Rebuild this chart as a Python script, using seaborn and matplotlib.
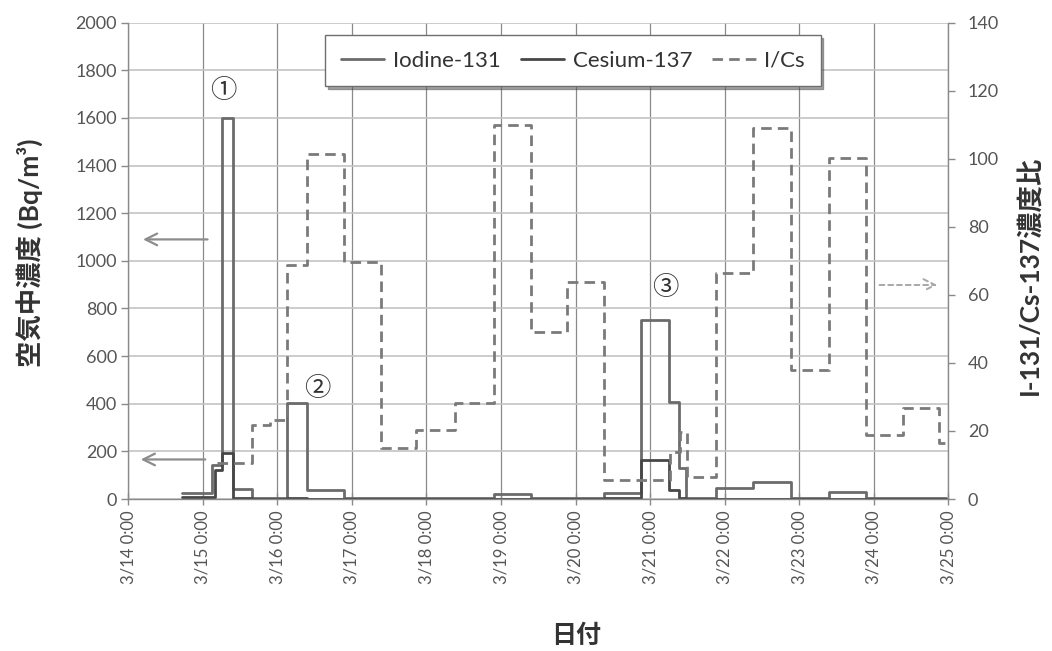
import matplotlib
matplotlib.use("Agg")
import matplotlib.pyplot as plt
import pandas as pd
import seaborn as sns

sns.set_theme(style="white")
plt.rcParams["font.family"] = ["Lato", "Noto Sans CJK JP", "DejaVu Sans"]

# I-131 air concentration, Bq/m3 (start of each sampling period)
iodine_start = ["2011-03-14 17:20", "2011-03-15 02:50", "2011-03-15 06:15", "2011-03-15 09:35",
                "2011-03-15 15:45", "2011-03-16 03:10", "2011-03-16 09:35", "2011-03-16 21:35",
                "2011-03-17 09:15", "2011-03-17 20:40", "2011-03-18 09:20", "2011-03-18 21:35",
                "2011-03-19 09:35", "2011-03-19 21:20", "2011-03-20 09:05", "2011-03-20 21:05",
                "2011-03-21 06:00", "2011-03-21 09:20", "2011-03-21 11:30", "2011-03-21 21:05",
                "2011-03-22 09:05", "2011-03-22 21:20", "2011-03-23 09:35", "2011-03-23 21:35",
                "2011-03-24 09:20", "2011-03-24 21:05"]
iodine_value = [25, 143, 1600, 40, 3, 403, 38, 4, 3, 3, 3, 22, 3, 4, 24, 750,
                408, 130, 4, 45, 73, 3, 31, 3, 3, 3]

# Cs-137 air concentration, Bq/m3
cesium_start = ["2011-03-14 17:20", "2011-03-15 03:50", "2011-03-15 06:15", "2011-03-15 09:35",
                "2011-03-15 15:45", "2011-03-16 03:10", "2011-03-16 09:35", "2011-03-16 21:35",
                "2011-03-18 21:35", "2011-03-19 09:35", "2011-03-20 09:05", "2011-03-20 21:05",
                "2011-03-21 06:00", "2011-03-21 09:20", "2011-03-21 11:30", "2011-03-21 21:05",
                "2011-03-22 21:20", "2011-03-23 09:35", "2011-03-23 21:35"]
cesium_value = [10, 120, 192, 4, 0.3, 6, 0.4, 0.1, 0.2, 0.1, 4, 164, 38, 6, 0.5, 0.6,
                0.1, 0.3, 0.1]

# I-131 / Cs-137 concentration ratio
ratio_start = ["2011-03-15 04:30", "2011-03-15 15:45", "2011-03-15 21:40", "2011-03-16 03:10",
               "2011-03-16 09:35", "2011-03-16 21:35", "2011-03-17 09:15", "2011-03-17 20:40",
               "2011-03-18 09:20", "2011-03-18 21:35", "2011-03-19 09:35", "2011-03-19 21:20",
               "2011-03-20 09:05", "2011-03-21 06:30", "2011-03-21 09:35", "2011-03-21 11:45",
               "2011-03-21 21:05", "2011-03-22 09:05", "2011-03-22 21:20", "2011-03-23 09:35",
               "2011-03-23 21:35", "2011-03-24 09:20", "2011-03-24 21:05"]
ratio_value = [10.6, 21.8, 23.2, 68.8, 101.4, 69.8, 15.0, 20.3, 28.2, 109.9, 49.2, 63.9,
               5.6, 13.9, 19.8, 6.6, 66.3, 109.0, 37.9, 100.1, 18.8, 26.7, 16.5]

series_end = "2011-03-24 23:15"

day_ticks = ["2011-03-14", "2011-03-15", "2011-03-16", "2011-03-17", "2011-03-18", "2011-03-19",
             "2011-03-20", "2011-03-21", "2011-03-22", "2011-03-23", "2011-03-24", "2011-03-25"]
day_labels = ["3/14 0:00", "3/15 0:00", "3/16 0:00", "3/17 0:00", "3/18 0:00", "3/19 0:00",
              "3/20 0:00", "3/21 0:00", "3/22 0:00", "3/23 0:00", "3/24 0:00", "3/25 0:00"]
left_ticks = [0, 200, 400, 600, 800, 1000, 1200, 1400, 1600, 1800, 2000]
right_ticks = [0, 20, 40, 60, 80, 100, 120, 140]


def step_frame(starts, values, end):
    times = pd.to_datetime(list(starts) + [end])
    vals = list(values) + [values[-1]]
    return pd.DataFrame({"time": times, "value": vals})


iodine_df = step_frame(iodine_start, iodine_value, series_end)
cesium_df = step_frame(cesium_start, cesium_value, series_end)
ratio_df = step_frame(ratio_start, ratio_value, series_end)

W, H = 1052, 651
fig = plt.figure(figsize=(W / 100, H / 100), dpi=100)
fig.patch.set_facecolor("white")
ax = fig.add_axes([128.3 / W, 1 - 499 / H, (948.3 - 128.3) / W, (499 - 22.7) / H])
ax2 = ax.twinx()

tick_color = "#555555"
c_iodine = "#6b6b6b"
c_cesium = "#474747"
c_ratio = "#7a7a7a"

sns.lineplot(data=iodine_df, x="time", y="value", ax=ax, drawstyle="steps-post",
             color=c_iodine, linewidth=2.0, estimator=None, errorbar=None, legend=False)
sns.lineplot(data=cesium_df, x="time", y="value", ax=ax, drawstyle="steps-post",
             color=c_cesium, linewidth=2.0, estimator=None, errorbar=None, legend=False)
sns.lineplot(data=ratio_df, x="time", y="value", ax=ax2, drawstyle="steps-post",
             color=c_ratio, linewidth=2.0, linestyle=(0, (3.8, 2.2)),
             estimator=None, errorbar=None, legend=False)

tick_times = pd.to_datetime(day_ticks)
ax.set_xlim(tick_times[0], tick_times[-1])
ax.set_ylim(0, 2000)
ax2.set_ylim(0, 140)
ax.set_xticks(tick_times)
ax.set_xticklabels(day_labels, rotation=90, fontsize=12, color=tick_color)
ax.set_yticks(left_ticks)
ax.set_yticklabels([str(v) for v in left_ticks], fontsize=13, color=tick_color)
ax2.set_yticks(right_ticks)
ax2.set_yticklabels([str(v) for v in right_ticks], fontsize=13, color=tick_color)
ax.set_xlabel("")
ax.set_ylabel("")
ax2.set_ylabel("")

# grid: light horizontal lines, darker thin vertical lines at each day
ax.set_axisbelow(True)
ax.grid(axis="y", color="#c4c4c4", linewidth=1.2)
ax.grid(axis="x", color="#8a8a8a", linewidth=0.9)
ax2.grid(False)

for a in (ax, ax2):
    for side, sp in a.spines.items():
        sp.set_color("#8a8a8a")
        sp.set_linewidth(1.0)
    a.spines["top"].set_visible(False)
ax.spines["right"].set_visible(False)
ax2.spines["left"].set_visible(False)
ax2.spines["bottom"].set_visible(False)

ax.tick_params(axis="y", direction="out", length=5, width=1, color="#8a8a8a", pad=3, left=True)
ax.tick_params(axis="x", direction="inout", length=9, width=1, color="#8a8a8a", pad=4, bottom=True)
ax2.tick_params(axis="y", direction="out", length=5, width=1, color="#8a8a8a", pad=9, right=True)

# legend built from the drawn lines
h_i = ax.get_lines()[0]
h_c = ax.get_lines()[1]
h_r = ax2.get_lines()[0]
leg = ax2.legend([h_i, h_c, h_r], ["Iodine-131", "Cesium-137", "I/Cs"],
                 loc="upper left", bbox_to_anchor=(325 / W, 1 - 35 / H),
                 bbox_transform=fig.transFigure, ncol=3, fontsize=16,
                 frameon=True, fancybox=False, shadow=True, borderpad=0.7,
                 handlelength=1.95, handletextpad=0.4, columnspacing=0.9,
                 borderaxespad=0)
leg.get_frame().set_edgecolor("#6e6e6e")
leg.get_frame().set_linewidth(1.0)
for t in leg.get_texts():
    t.set_color("#333333")

# direction arrows
arrow_kw = dict(arrowstyle="->,head_length=0.7,head_width=0.35", color="#8c8c8c", lw=1.6)
t0 = tick_times[0]
ax.annotate("", xy=(t0 + pd.Timedelta(days=0.16), 1090), xytext=(t0 + pd.Timedelta(days=1.10), 1090),
            arrowprops=arrow_kw)
ax.annotate("", xy=(t0 + pd.Timedelta(days=0.13), 166), xytext=(t0 + pd.Timedelta(days=1.07), 166),
            arrowprops=arrow_kw)
ax2.annotate("", xy=(t0 + pd.Timedelta(days=10.89), 62.9), xytext=(t0 + pd.Timedelta(days=10.04), 62.9),
             arrowprops=dict(arrowstyle="->,head_length=0.7,head_width=0.35", color="#a8a8a8",
                             lw=1.4, linestyle=(0, (2.5, 2))))

# numbered event markers
markers = [("①", 1.27, 1717), ("②", 2.53, 466), ("③", 7.20, 886)]
for txt, d, yv in markers:
    ax.text(t0 + pd.Timedelta(days=d), yv, txt, ha="center", va="center", fontsize=19,
            color="#333333", family=["Noto Sans CJK JP", "DejaVu Sans"])

label_font = ["Lato", "Noto Sans CJK JP", "DejaVu Sans"]
fig.text(30 / W, 1 - 253 / H, "空気中濃度 (Bq/m³)", rotation=90, ha="center", va="center",
         fontsize=19, fontweight="bold", color="#333333", family=label_font)
fig.text(1030 / W, 1 - 275 / H, "I-131/Cs-137濃度比", rotation=90, ha="center", va="center",
         fontsize=19, fontweight="bold", color="#333333", family=label_font)
fig.text(576 / W, 1 - 635 / H, "日付", ha="center", va="center",
         fontsize=18, fontweight="bold", color="#333333", family=label_font)

fig.savefig("out.png", dpi=100, facecolor="white")
